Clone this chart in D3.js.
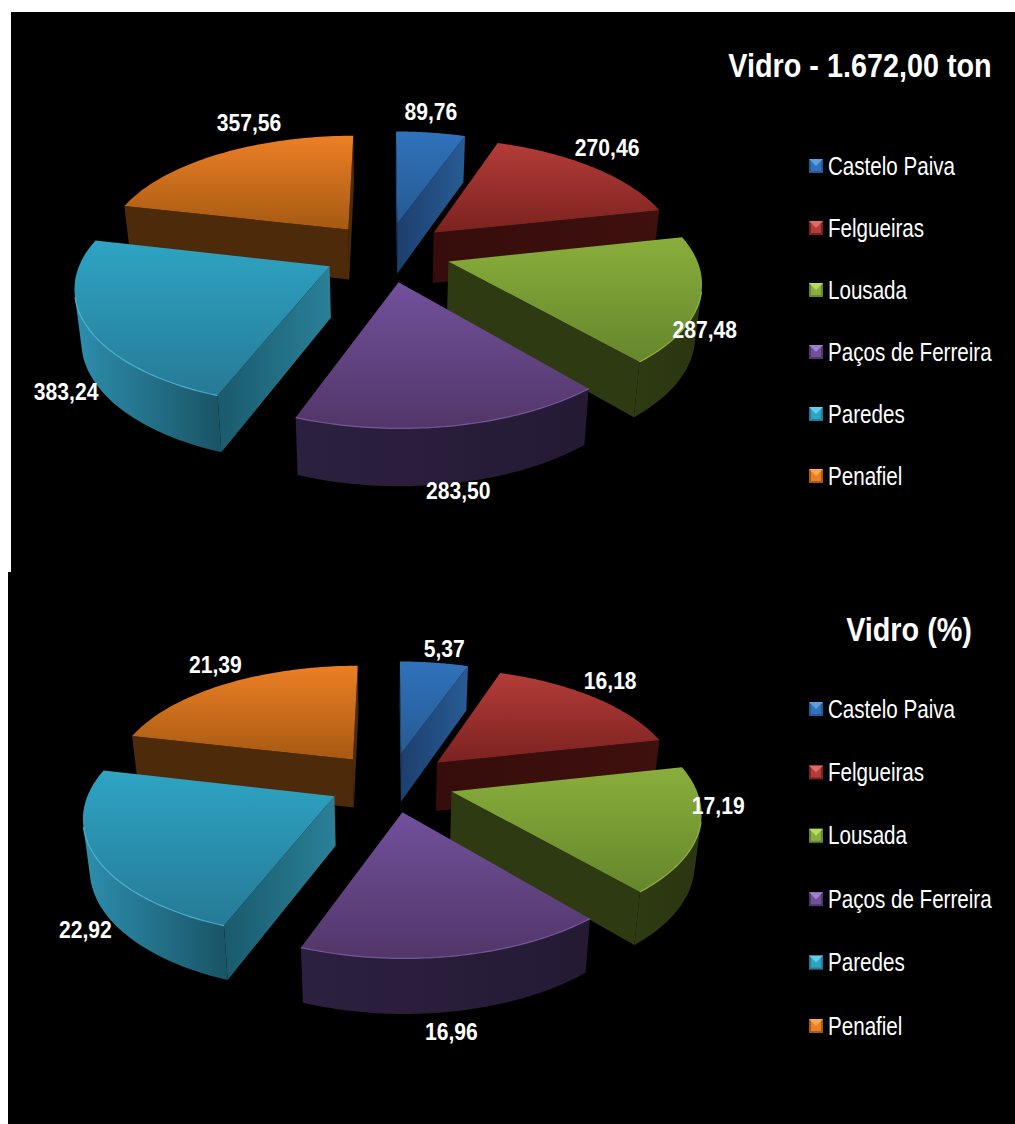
<!DOCTYPE html>
<html><head><meta charset="utf-8">
<script src="https://cdn.jsdelivr.net/npm/d3@7"></script>
<style>html,body{margin:0;padding:0;background:#fff}svg{display:block}
text{font-family:"Liberation Sans",Arial,sans-serif;fill:#fff}</style></head>
<body><div id="c"></div>
<script>
// ---- data ----
const categories = ["Castelo Paiva","Felgueiras","Lousada","Paços de Ferreira","Paredes","Penafiel"];
const tonValues = [89.76,270.46,287.48,283.50,383.24,357.56];
const pctValues = [5.37,16.18,17.19,16.96,22.92,21.39];
const titleTon = "Vidro - 1.672,00 ton";
const titlePct = "Vidro (%)";
// ---- style ----
const topLight  = ["#3072bb","#b33c38","#8aae3c","#71519c","#2ea4c3","#ec7f25"];
const topDark   = ["#265a92","#7c2220","#66862c","#523668","#267a96","#a65a13"];
const cutApex   = ["#1c3f6e","#360d0b","#2e3a12","#2a1d3a","#2a8098","#4d2a0a"];
const cutRim    = ["#285c94","#3e100e","#2e3a12","#2a1d3a","#1a5a6c","#4d2a0a"];
const wallLeft  = ["#1e4475","#3a0e0c","#2e3a12","#2c2040","#2d8fae","#4d2a0a"];
const wallRight = ["#1e4475","#3a0e0c","#2b3610","#251a34","#1a5567","#4d2a0a"];
const rimColor  = ["#3b7cc4","#c04a44","#a8cc50","#8a68b4","#5cc8e6","#f08c35"];
const swatchTop = ["#5f9fe0","#e06a66","#b8dc60","#a080d0","#60d0ee","#ffa850"];

const W=1015,H=1124;
const svg=d3.select("#c").append("svg").attr("width",W).attr("height",H);
const defs=svg.append("defs");
svg.append("rect").attr("width",W).attr("height",H).attr("fill","#fff");
// panel backgrounds
svg.append("rect").attr("x",11).attr("y",12).attr("width",W-11).attr("height",560).attr("fill","#000");
svg.append("rect").attr("x",8).attr("y",572).attr("width",W-8).attr("height",H-572).attr("fill","#000");

function gradient(id,x1,y1,x2,y2,c1,c2){
  const s=defs.append("linearGradient").attr("id",id).attr("gradientUnits","userSpaceOnUse")
    .attr("x1",x1).attr("y1",y1).attr("x2",x2).attr("y2",y2);
  s.append("stop").attr("offset",0).attr("stop-color",c1);
  s.append("stop").attr("offset",1).attr("stop-color",c2);
  return `url(#${id})`;
}
function drawChart(cfg){
  const {values,cx,cy,a,b,k,h,e,id}=cfg;
  const arcs=d3.pie().sort(null).startAngle(0).endAngle(2*Math.PI)(values);
  const g=svg.append("g");
  // homography of the tilted disc; z=0 top plane, z=1 bottom plane
  const project=(x,y,z)=>{
    const w=1+k*y;
    const sx=a*x/w*(1-0.022*z), sy=-b*y/w + z*h/Math.pow(w,0.6);
    return [cx+sx,cy+sy];
  };
  const line=d3.line();
  const order=[5,0,1,2,4,3];
  const labels=[];
  order.forEach(i=>{
    const d=arcs[i], mid=(d.startAngle+d.endAngle)/2;
    const ox=e*Math.sin(mid), oy=e*Math.cos(mid);
    const P=(r,t,z)=>project(ox+r*Math.sin(t),oy+r*Math.cos(t),z);
    const angle=d3.scaleLinear().domain([0,60]).range([d.startAngle,d.endAngle]);
    const steps=d3.range(0,61).map(angle);
    const rimTop=steps.map(t=>P(1,t,0));
    const area=q=>d3.polygonArea(q);
    const ys=[P(0,0,0)[1],...rimTop.map(p=>p[1])];
    const topFill=gradient(`${id}-top-${i}`,0,d3.min(ys),0,d3.max(ys),topLight[i],topDark[i]);
    // cut faces, only those turned to the viewer
    [d.startAngle,d.endAngle].forEach((t,n)=>{
      const q=n===0?[P(0,t,0),P(1,t,0),P(1,t,1),P(0,t,1)]:[P(1,t,0),P(0,t,0),P(0,t,1),P(1,t,1)];
      if(area(q)<0) return;
      const A=P(0,t,0),R=P(1,t,0);
      const f=gradient(`${id}-cut-${i}-${n}`,A[0],0,R[0]+.01,0,cutApex[i],cutRim[i]);
      g.append("path").attr("d",line(q)+"Z").attr("fill",f);
    });
    // outer wall: the front-facing run of the rim as one polygon
    const front=d3.pairs(steps).filter(([t0,t1])=>area([P(1,t0,0),P(1,t1,0),P(1,t1,1),P(1,t0,1)])>=0);
    if(front.length){
      const ts=[front[0][0],...front.map(p=>p[1])];
      const upper=ts.map(t=>P(1,t,0)), lower=ts.map(t=>P(1,t,1)).reverse();
      const xs=d3.extent(upper,p=>p[0]);
      const f=gradient(`${id}-wall-${i}`,xs[0],0,xs[1]+.01,0,wallLeft[i],wallRight[i]);
      g.append("path").attr("d",line([...upper,...lower])+"Z").attr("fill",f);
      labels.rim=upper;
    }
    // top face and the lit front rim
    g.append("path").attr("d",line([P(0,0,0),...rimTop])+"Z").attr("fill",topFill);
    if(front.length){
      const ts=[front[0][0],...front.map(p=>p[1])];
      g.append("path").attr("d",line(ts.map(t=>P(1,t,0)))).attr("fill","none")
        .attr("stroke",rimColor[i]).attr("stroke-width",1.2).attr("opacity",.75);
    }
    labels.push({i,d,at:P(1,mid,0)});
  });
  // value labels sit above every slice
  labels.forEach(({i,d,at})=>{
    g.append("text").attr("text-anchor","middle")
      .attr("transform",`translate(${at[0]+cfg.nudge[i][0]},${at[1]+cfg.nudge[i][1]+8.5}) scale(.88,1)`)
      .attr("font-size",24).attr("font-weight","bold")
      .text(d3.format(".2f")(d.value).replace(".",","));
  });
  // title
  svg.append("text").attr("text-anchor","middle")
    .attr("transform",`translate(${cfg.titleX},${cfg.titleY}) scale(.872,1)`)
    .attr("font-size",33).attr("font-weight","bold").text(cfg.title);
  // legend
  const y=d3.scalePoint().domain(categories).range(cfg.legendY);
  categories.forEach((n,i)=>{
    const l=svg.append("g").attr("transform",`translate(809,${y(n)-7})`);
    const s=14;
    l.append("rect").attr("width",s).attr("height",s).attr("fill",topDark[i]);
    l.append("path").attr("d",line([[2,s-2],[s-2,s-2],[s-2,2],[2,2]])+"Z").attr("fill",topLight[i]);
    l.append("path").attr("d",line([[0,0],[s,0],[s/2,s/2]])+"Z").attr("fill",swatchTop[i]);
    svg.append("text").attr("transform",`translate(828,${y(n)+8.5}) scale(.824,1)`)
      .attr("font-size",25).text(n);
  });
}
drawChart({id:"ton",values:tonValues,cx:387,cy:252,a:246,b:114,k:.15,h:51,e:.26,
  title:titleTon,titleX:860,titleY:77,legendY:[166,476],
  nudge:[[0,-21],[14,-20],[5,29],[5,65],[-21,65],[30,-32]]});
drawChart({id:"pct",values:pctValues,cx:391,cy:782,a:242.5,b:114,k:.15,h:49,e:.26,
  title:titlePct,titleX:909,titleY:641,legendY:[709,1026],
  nudge:[[10,-14],[16,-17],[19,-25],[-5,76],[-10,73],[-10,-20]]});
</script></body></html>
